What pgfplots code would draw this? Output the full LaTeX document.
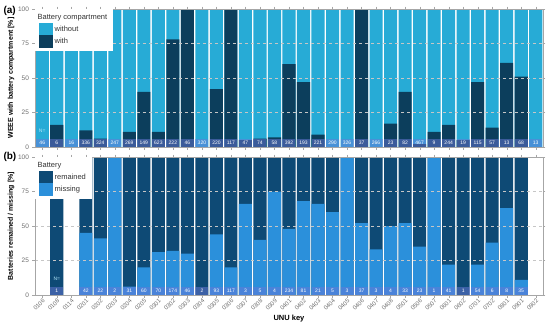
\documentclass[border=0pt]{standalone}
\usepackage{pgfplots}
\pgfplotsset{compat=1.18}
\usepackage{pgfplotstable}
\usepackage{fontspec}
\setmainfont{Liberation Sans}

\definecolor{colWithout}{HTML}{27ABD6}
\definecolor{colWith}{HTML}{0C3E5C}
\definecolor{colRemained}{HTML}{0E4A75}
\definecolor{colMissing}{HTML}{2B90DB}
\definecolor{nfill}{HTML}{6A78D8}
\definecolor{tickgray}{HTML}{6E6E6E}

\pgfplotstableread{
x with N
0 0 46
1 16 6
2 0 16
3 12 336
4 6 324
5 0 247
6 11 269
7 40 149
8 11 623
9 78 222
10 100 46
11 0 320
12 42 220
13 100 117
14 5 47
15 6 74
16 7 58
17 60 392
18 47 193
19 9 221
20 0 290
21 0 326
22 100 37
23 0 266
24 17 23
25 40 82
26 2 467
27 11 9
28 16 244
29 5 19
30 47 115
31 14 57
32 61 13
33 51 68
34 0 13
}\dataA

\pgfplotstableread{
x miss N
1 0 1
3 45 42
4 41 22
5 100 2
6 6 31
7 20 60
8 31 70
9 32 174
10 30 46
11 0 2
12 44 93
13 20 117
14 66 3
15 40 5
16 75 4
17 48 234
18 68 81
19 66 21
20 60 5
21 100 3
22 52 37
23 33 3
24 50 4
25 52 33
26 35 23
27 100 1
28 22 41
29 0 1
30 22 54
31 38 6
32 63 8
33 11 35
}\dataB

\pgfplotsset{
  panel/.style={
    scale only axis, width=508pt, height=138pt,
    xmin=-0.5, xmax=34.5, ymin=0, ymax=100,
    ytick={0,25,50,75,100}, xtick={0,...,34},
    axis on top, ymajorgrids, grid style={dashed, gray!45, line width=0.5pt},
    axis line style={gray!70}, tick style={gray!70},
    tick align=outside, major tick length=2.5pt,
    /pgf/number format/assume math mode=true,
    yticklabel style={font=\fontsize{6.5}{7}\selectfont, text=tickgray},
    ylabel style={font=\bfseries\fontsize{7}{8}\selectfont, yshift=-3pt},
    legend style={at={(0,1)}, anchor=north west, draw=none, fill=white,
      font=\fontsize{7.5}{8}\selectfont, text=black!80, inner xsep=4pt, inner ysep=3pt,
      row sep=0pt, cells={anchor=west}},
  },
  nlab/.style={forget plot, only marks, mark=none, point meta=explicit symbolic,
    nodes near coords,
    nodes near coords style={anchor=south, font=\fontsize{5}{5}\selectfont, text=white,
      fill=nfill, fill opacity=0.5, text opacity=1, inner sep=0pt,
      minimum width=13pt, minimum height=8pt}},
  barst/.style={ybar, bar width=0.9, bar shift=0pt, draw=none, forget plot},
}

\begin{document}
\begin{tikzpicture}
\useasboundingbox (-35pt,-186pt) rectangle (515pt,147pt);

\begin{axis}[panel, at={(0,0)}, anchor=south west,
  xticklabels={}, ylabel={WEEE with battery compartment [\%]}]
\addplot[barst, fill=colWithout] table[x=x, y expr=100] {\dataA};
\addplot[barst, fill=colWith] table[x=x, y=with] {\dataA};
\addplot[nlab] table[x=x, y expr=0, meta=N] {\dataA};
\node[font=\fontsize{5}{5}\selectfont, text=cyan!30!white, anchor=south] at (axis cs:0,8) {N=};
\addlegendimage{empty legend}\addlegendentry{\hspace*{-17pt}Battery compartment}
\addlegendimage{legend image code/.code={\fill[colWithout] (0pt,-6pt) rectangle (13pt,6pt);}}
\addlegendentry{without}
\addlegendimage{legend image code/.code={\fill[colWith] (0pt,-6pt) rectangle (13pt,6pt);}}
\addlegendentry{with}
\end{axis}

\begin{axis}[panel, at={(0,-148pt)}, anchor=south west,
  ylabel={Batteries remained / missing [\%]},
  xlabel={UNU key}, xlabel style={font=\bfseries\fontsize{7.5}{8}\selectfont},
  xticklabels={0106,0108,0114,0201,0202,0203,0204,0205,0301,0302,0303,0304,0305,0306,0307,0308,0309,0401,0402,0403,0404,0405,0406,0407,0408,0501,0506,0507,0601,0602,0701,0702,0801,0901,0902},
  xticklabel style={rotate=45, anchor=north east, font=\fontsize{6}{6}\selectfont, text=tickgray, inner sep=0.5pt}]
\addplot[barst, fill=colRemained] table[x=x, y expr=100] {\dataB};
\addplot[barst, fill=colMissing] table[x=x, y=miss] {\dataB};
\addplot[nlab] table[x=x, y expr=0, meta=N] {\dataB};
\node[font=\fontsize{5}{5}\selectfont, text=cyan!30!white, anchor=south] at (axis cs:1,8) {N=};
\addlegendimage{empty legend}\addlegendentry{\hspace*{-17pt}Battery}
\addlegendimage{legend image code/.code={\fill[colRemained] (0pt,-6pt) rectangle (13pt,6pt);}}
\addlegendentry{remained}
\addlegendimage{legend image code/.code={\fill[colMissing] (0pt,-6pt) rectangle (13pt,6pt);}}
\addlegendentry{missing}
\end{axis}

\node[font=\bfseries\fontsize{10}{10}\selectfont, anchor=west] at (-35pt,136pt) {(a)};
\node[font=\bfseries\fontsize{10}{10}\selectfont, anchor=west] at (-35pt,-10pt) {(b)};
\end{tikzpicture}
\end{document}
